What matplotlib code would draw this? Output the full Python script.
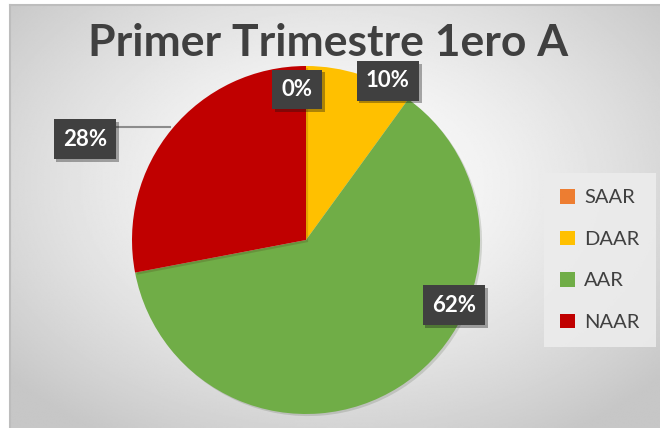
import numpy as np
import matplotlib
matplotlib.use('Agg')
import matplotlib.pyplot as plt
import matplotlib.patheffects as pe
from matplotlib.patches import Patch

# Category shares for the first term
categories = ['SAAR', 'DAAR', 'AAR', 'NAAR']
shares = [0, 10, 62, 28]
colors = ['#ED7D31', '#FFC000', '#70AD47', '#C00000']

# where each percentage box sits (pie data units, radius = 1)
label_pos = [(-0.05, 0.865), (0.47, 0.915), (0.85, -0.375), (-1.27, 0.58)]

plt.rcParams['font.family'] = ['Lato', 'DejaVu Sans']

W, H = 660, 428
fig = plt.figure(figsize=(W / 100, H / 100), dpi=100)
fig.patch.set_facecolor('white')

# radial grey background of the chart area
bg = fig.add_axes([10 / W, 0, 650 / W, 423 / H])
yy, xx = np.mgrid[-1:1:300j, -1:1:450j]
r = np.sqrt((xx * 0.95) ** 2 + ((yy + 0.15) * 0.9) ** 2)
shade = np.clip(1.0 - 0.16 * r ** 1.4, 0.78, 1.0)
bg.imshow(shade, cmap='gray', vmin=0, vmax=1, aspect='auto',
          extent=[0, 1, 0, 1], interpolation='bilinear')
bg.set_xticks([])
bg.set_yticks([])
for side, sp in bg.spines.items():
    sp.set_color('#bdbdbd')
    sp.set_linewidth(1.5)
    if side in ('right', 'bottom'):
        sp.set_visible(False)

# pie, centred at (306, 240) px with radius 174 px
cx, cy, rad = 306, 240, 174
ax = fig.add_axes([(cx - rad) / W, (H - cy - rad) / H, 2 * rad / W, 2 * rad / H])
wedges, _ = ax.pie(shares, colors=colors, startangle=90, counterclock=False,
                   radius=1, wedgeprops=dict(linewidth=0))
for w in wedges:
    w.set_path_effects([pe.SimplePatchShadow(offset=(1.5, -1.5), alpha=0.15), pe.Normal()])
ax.set_xlim(-1, 1)
ax.set_ylim(-1, 1)
ax.axis('off')

# leader line for the NAAR label
ax.plot([-1.09, -0.78], [0.65, 0.65], color='#8c8c8c', lw=1.5, clip_on=False, zorder=1)

for v, (x, y) in zip(shares, label_pos):
    t = ax.text(x, y, f'{v:.0f}%', ha='center', va='center', fontsize=16,
                fontweight='bold', color='white', clip_on=False, zorder=5,
                bbox=dict(boxstyle='square,pad=0.42', facecolor='#404040',
                          edgecolor='none', linewidth=0))
    t.get_bbox_patch().set_path_effects(
        [pe.SimplePatchShadow(offset=(2, -2), alpha=0.35), pe.Normal()])

fig.text(328 / W, 1 - 56 / H, 'Primer Trimestre 1ero A', ha='center', va='baseline',
         fontsize=32, fontweight='bold', color='#404040')

handles = [Patch(facecolor=c, edgecolor='none') for c in colors]
leg = fig.legend(handles, categories, loc='center', bbox_to_anchor=(600 / W, 1 - 260 / H),
                 frameon=True, facecolor='#ececec', edgecolor='none', framealpha=0.9,
                 fontsize=14.5, labelspacing=1.2, handlelength=0.75, handleheight=0.75,
                 handletextpad=0.45, borderpad=0.8, fancybox=False)
for txt in leg.get_texts():
    txt.set_color('#404040')

fig.savefig('out.png', dpi=100)
